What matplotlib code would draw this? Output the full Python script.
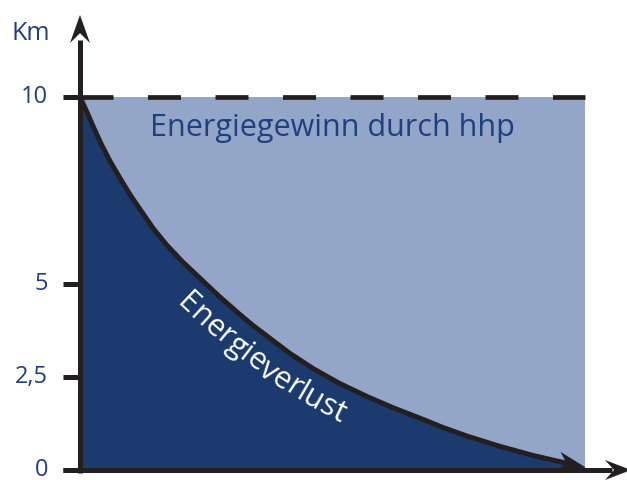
import numpy as np
import matplotlib
matplotlib.use('Agg')
import matplotlib.pyplot as plt
from matplotlib.path import Path
from matplotlib.patches import Polygon, Rectangle
from matplotlib.font_manager import FontProperties

# ---------------- data ----------------
y_ticks = [0, 2.5, 5, 10]
y_tick_labels = ['0', '2,5', '5', '10']
y_unit = 'Km'
max_value = 10.0
x_max = 10.0
loss_x = [0.0, 0.132, 0.430, 0.792, 1.222, 1.717, 2.376, 3.103, 3.762, 4.614, 5.683, 6.733, 7.663, 8.970, 10.0]
loss_y = [10.0, 9.61, 8.71, 7.82, 6.92, 6.03, 5.14, 4.24, 3.53, 2.72, 1.97, 1.39, 0.91, 0.39, 0.08]
gain_label = 'Energiegewinn durch hhp'
loss_label = 'Energieverlust'

# ---------------- style ----------------
W, H, DPI = 627, 480, 100
PX_X, PX_Y = 50.5, 37.3        # pixels per data unit
X0, Y0 = 80, 470               # pixel position of data origin (y from top)
LIGHT = '#93a6c8'
DARK = '#1b3a6e'
INK = '#231f20'
TXT = '#1f4080'
FONT = 'Open Sans'
LW = 3.6

fig = plt.figure(figsize=(W / DPI, H / DPI), dpi=DPI)
ax = fig.add_axes([0, 0, 1, 1])
ax.set_axis_off()
ax.set_xlim(-X0 / PX_X, (W - X0) / PX_X)
ax.set_ylim(-(H - Y0) / PX_Y, Y0 / PX_Y)


def P(px, py):
    """pixel (from top-left) -> data coords"""
    return ((px - X0) / PX_X, (Y0 - py) / PX_Y)


def Pinv(x, y):
    return (X0 + x * PX_X, Y0 - y * PX_Y)


# smooth curve (Catmull-Rom as cubic Bezier) through the read points
pts = np.column_stack([loss_x, loss_y])
ext = np.vstack([pts[0], pts, pts[-1]])
verts = [tuple(pts[0])]
codes = [Path.MOVETO]
for i in range(len(pts) - 1):
    p0, p1, p2, p3 = ext[i], ext[i + 1], ext[i + 2], ext[i + 3]
    c1 = p1 + (p2 - p0) / 6.0
    c2 = p2 - (p3 - p1) / 6.0
    verts += [tuple(c1), tuple(c2), tuple(p2)]
    codes += [Path.CURVE4] * 3
curve = Path(verts, codes)
poly = curve.to_polygons(closed_only=False)[0]
dense = []
for a, b in zip(poly[:-1], poly[1:]):
    for t in np.linspace(0, 1, 6, endpoint=False):
        dense.append(a + (b - a) * t)
dense.append(poly[-1])
dense = np.array(dense)

# background (gain) rectangle
ax.add_patch(Rectangle((0, 0), x_max, max_value, facecolor=LIGHT, edgecolor='none', zorder=1))
# loss area
fill_poly = np.vstack([[0, 0], dense, [dense[-1, 0], 0]])
ax.add_patch(Polygon(fill_poly, closed=True, facecolor=DARK, edgecolor='none', zorder=2))

# curve line, stopped short of the arrow tip
pix = np.array([Pinv(x, y) for x, y in dense])
seg = np.hypot(*np.diff(pix, axis=0).T)
s = np.concatenate([[0], np.cumsum(seg)])
total = s[-1]
cut = s <= total - 12
line_pts = dense[cut]
ax.plot(line_pts[:, 0], line_pts[:, 1], color=INK, lw=LW, solid_capstyle='butt',
        solid_joinstyle='round', zorder=4)


def arrowhead(tip, direction, length, half_w, notch, z=5):
    d = np.asarray(direction, float)
    d /= np.hypot(*d)
    n = np.array([-d[1], d[0]])
    tip = np.asarray(tip, float)
    base = tip - length * d
    pp = [tip, base + half_w * n, tip - notch * length * d, base - half_w * n]
    ax.add_patch(Polygon([P(*q) for q in pp], closed=True, facecolor=INK,
                         edgecolor='none', zorder=z))

tip_px = pix[-1]
back_idx = np.searchsorted(s, total - 18)
arrowhead(tip_px, tip_px - pix[back_idx], 27, 10, 0.7)

# dashed maximum line
ax.plot([0, x_max], [max_value, max_value], color=INK, lw=3.4,
        dashes=(33 * 72 / DPI / 3.4, 34.5 * 72 / DPI / 3.4),
        dash_capstyle='butt', zorder=4)

# axes
ax.plot([0, 0], [P(0, 473)[1], P(0, 40)[1]], color=INK, lw=LW, solid_capstyle='butt', zorder=6)
ax.plot([P(63, 0)[0], P(612, 0)[0]], [0, 0], color=INK, lw=LW, solid_capstyle='butt', zorder=6)
arrowhead((X0, 15), (0, -1), 28, 10, 0.65, z=7)
arrowhead((631, Y0), (1, 0), 26, 10, 0.65, z=7)

# ticks and labels
fp_tick = FontProperties(family=FONT, size=17)
for v, lab in zip(y_ticks, y_tick_labels):
    ax.plot([P(63, 0)[0], 0], [v, v], color=INK, lw=LW, solid_capstyle='butt', zorder=6)
    ax.text(P(48, 0)[0], v, lab, ha='right', va='center', color=TXT,
            fontproperties=fp_tick, zorder=8)
ax.text(*P(11, 40), y_unit, ha='left', va='baseline', color=TXT,
        fontproperties=FontProperties(family=FONT, size=18), zorder=8)

# gain label
fp_lab = FontProperties(family=FONT, size=22)
ax.text(*P(150, 136), gain_label, ha='left', va='baseline', color=TXT,
        fontproperties=fp_lab, zorder=8)

# loss label along the curve
fig.canvas.draw()
renderer = fig.canvas.get_renderer()
disp = np.column_stack([pix[:, 0], H - pix[:, 1]])  # display coords, y up
tang = np.gradient(disp, axis=0)
tang /= np.hypot(tang[:, 0], tang[:, 1])[:, None]
normal = np.column_stack([tang[:, 1], -tang[:, 0]])   # below the curve
OFFSET = 35
off = disp + OFFSET * normal
os_ = np.concatenate([[0], np.cumsum(np.hypot(*np.diff(off, axis=0).T))])
start_target = np.array([175, H - 302])
k0 = np.argmin(np.hypot(*(off - start_target).T))
s0 = os_[k0]


def text_width(t):
    if not t:
        return 0.0
    tt = ax.text(0, 0, t, fontproperties=fp_lab)
    w = tt.get_window_extent(renderer).width
    tt.remove()
    return w

inv = ax.transData.inverted()
for i, ch in enumerate(loss_label):
    w0 = text_width(loss_label[:i])
    w1 = text_width(loss_label[:i + 1])
    sc = s0 + (w0 + w1) / 2
    xq = np.interp(sc, os_, off[:, 0])
    yq = np.interp(sc, os_, off[:, 1])
    tx = np.interp(sc, os_, tang[:, 0])
    ty = np.interp(sc, os_, tang[:, 1])
    ang = np.degrees(np.arctan2(ty, tx))
    xd, yd = inv.transform((xq, yq))
    ax.text(xd, yd, ch, ha='center', va='baseline', rotation=ang,
            rotation_mode='anchor', color='white', fontproperties=fp_lab, zorder=8)

fig.savefig('out.png', dpi=DPI)
